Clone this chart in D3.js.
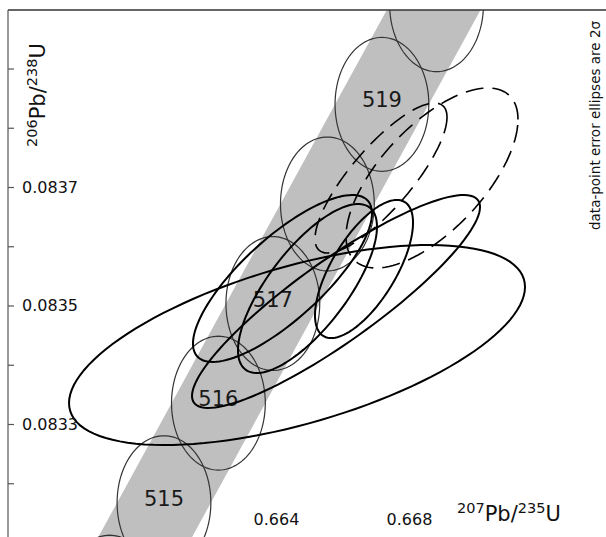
<!DOCTYPE html>
<html>
<head>
<meta charset="utf-8">
<script src="https://cdn.jsdelivr.net/npm/d3@7"></script>
<style>
  body { margin: 0; background: #fff; }
  text { font-family: "DejaVu Sans", sans-serif; }
</style>
</head>
<body>
<div id="canvas"></div>
<script>
"use strict"

// concordia age markers (Ma) and their ratios
let markerAges = [514, 515, 516, 517, 518, 519, 520, 521]
let marker207 = [0.658997, 0.660631, 0.662268, 0.663905, 0.665545, 0.667186, 0.668829, 0.670473]
let marker206 = [0.0829993, 0.0831672, 0.0833352, 0.0835033, 0.0836714, 0.0838395, 0.0840077, 0.0841758]
let labelledAges = [515, 516, 517, 519]
// 2 sigma half axes of the decay constant error ellipses / band
let marker207Err = 0.00141
let marker206Err = 0.000113

// data points (2 sigma)
let grain207 = [0.664632, 0.664195, 0.664947, 0.665805, 0.666647, 0.668692, 0.667158]
let grain206 = [0.0834333, 0.0835456, 0.0835287, 0.0835068, 0.0835616, 0.0837152, 0.0837152]
let grain207Err = [0.006857, 0.002692, 0.00209, 0.004331, 0.001474, 0.002586, 0.001985]
let grain206Err = [0.0001688, 0.0001409, 0.0001426, 0.0001797, 0.0001165, 0.0001519, 0.0001266]
let grainRho = [0.58, 0.78, 0.73, 0.887, 0.67, 0.65, 0.81]
let grainExcluded = [false, false, false, false, false, true, true]

let yTicks = [0.0832, 0.0833, 0.0834, 0.0835, 0.0836, 0.0837, 0.0838, 0.0839]
let yLabels = [0.0833, 0.0835, 0.0837]
let xLabels = [0.664, 0.668]

let W = 606, H = 537
let plotLeft = 8, plotTop = 10

let svg = d3.select("#canvas")
    .append("svg")
    .attr("width", W)
    .attr("height", H)

let x = d3.scaleLinear().domain([0.664, 0.668]).range([276, 409])
let y = d3.scaleLinear().domain([0.0833, 0.0837]).range([424, 187])

svg.append("clipPath").attr("id", "plot")
    .append("rect")
    .attr("x", plotLeft).attr("y", plotTop)
    .attr("width", W - plotLeft).attr("height", H - plotTop)

let plot = svg.append("g").attr("clip-path", "url(#plot)")

/* ellipse outline as a list of data points */
function ellipsePts(cx, cy, sx, sy, rho) {
    let pts = []
    let k = Math.sqrt(1 - rho * rho)
    for (let i = 0; i < 120; i++) {
        let t = i / 120 * 2 * Math.PI
        pts.push([cx + sx * Math.cos(t), cy + sy * (rho * Math.cos(t) + k * Math.sin(t))])
    }
    return pts
}

let line = d3.line()
    .x(d => x(d[0]))
    .y(d => y(d[1]))
    .curve(d3.curveLinearClosed)

// concordia band
let band = marker207.map((v, i) => [v - marker207Err, marker206[i]])
    .concat(marker207.map((v, i) => [v + marker207Err, marker206[i]]).reverse())
plot.append("path")
    .attr("d", line(band))
    .attr("fill", "#bfbfbf")

// age marker ellipses
markerAges.forEach((a, i) => {
    plot.append("path")
        .attr("d", line(ellipsePts(marker207[i], marker206[i], marker207Err, marker206Err, 0)))
        .attr("fill", "none")
        .attr("stroke", "#333")
        .attr("stroke-width", 1.2)
})

markerAges.forEach((a, i) => {
    if (!labelledAges.includes(a)) return
    plot.append("text")
        .attr("x", x(marker207[i]))
        .attr("y", y(marker206[i]) - 4)
        .attr("text-anchor", "middle")
        .attr("dominant-baseline", "central")
        .attr("font-size", 21)
        .attr("fill", "#1a1a1a")
        .text(a)
})

// data ellipses
grain207.forEach((v, i) => {
    plot.append("path")
        .attr("d", line(ellipsePts(v, grain206[i], grain207Err[i], grain206Err[i], grainRho[i])))
        .attr("fill", "none")
        .attr("stroke", "#000")
        .attr("stroke-width", grainExcluded[i] ? 1.6 : 2)
        .attr("stroke-dasharray", grainExcluded[i] ? "18,9" : null)
})

// axes
svg.append("line")
    .attr("x1", plotLeft).attr("y1", plotTop)
    .attr("x2", W).attr("y2", plotTop)
    .attr("stroke", "#333")
    .attr("stroke-width", 1.5)

svg.append("line")
    .attr("x1", plotLeft).attr("y1", plotTop)
    .attr("x2", plotLeft).attr("y2", H)
    .attr("stroke", "#555")
    .attr("stroke-width", 1.2)

let yAxis = svg.append("g")
    .attr("transform", `translate(${plotLeft},0)`)
    .call(d3.axisRight(y)
        .tickValues(yTicks)
        .tickSize(6)
        .tickPadding(8)
        .tickFormat(d => yLabels.some(l => Math.abs(l - d) < 1e-9) ? d3.format(".4f")(d) : ""))
yAxis.select(".domain").remove()
yAxis.selectAll("line").attr("stroke", "#555").attr("stroke-width", 1.2)
yAxis.selectAll("text").attr("font-size", 16).attr("fill", "#111")
    .attr("font-family", "DejaVu Sans")

let xAxis = svg.append("g")
    .attr("transform", "translate(0,506)")
    .call(d3.axisBottom(x)
        .tickValues(xLabels)
        .tickSize(0)
        .tickPadding(8)
        .tickFormat(d3.format(".3f")))
xAxis.select(".domain").remove()
xAxis.selectAll("text").attr("font-size", 16).attr("fill", "#111")
    .attr("font-family", "DejaVu Sans")

// axis titles
let yTitle = svg.append("text")
    .attr("transform", "translate(45,147) rotate(-90)")
    .attr("font-size", 21)
    .attr("fill", "#111")
yTitle.append("tspan").attr("font-size", 14.5).attr("dy", -8).text("206")
yTitle.append("tspan").attr("dy", 8).text("Pb/")
yTitle.append("tspan").attr("font-size", 14.5).attr("dy", -8).text("238")
yTitle.append("tspan").attr("dy", 8).text("U")

let xTitle = svg.append("text")
    .attr("x", 457).attr("y", 521)
    .attr("font-size", 21)
    .attr("fill", "#111")
xTitle.append("tspan").attr("font-size", 14.5).attr("dy", -8).text("207")
xTitle.append("tspan").attr("dy", 8).text("Pb/")
xTitle.append("tspan").attr("font-size", 14.5).attr("dy", -8).text("235")
xTitle.append("tspan").attr("dy", 8).text("U")

svg.append("text")
    .attr("transform", "translate(600,230) rotate(-90)")
    .attr("font-size", 13.5)
    .attr("fill", "#111")
    .text("data-point error ellipses are 2σ")
</script>
</body>
</html>
